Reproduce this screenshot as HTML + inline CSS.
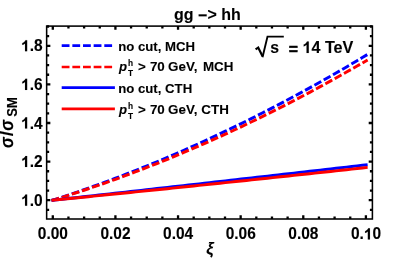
<!DOCTYPE html>
<html><head><meta charset="utf-8"><style>
html,body{margin:0;padding:0;background:#fff;}
svg{display:block;will-change:transform;font-family:"Liberation Sans",sans-serif;font-weight:bold;}
text{fill:#000;stroke:#000;stroke-width:0.1px;}
</style></head><body>
<svg width="399" height="266" viewBox="0 0 399 266">
<rect width="399" height="266" fill="#fff"/>
<defs><clipPath id="c"><rect x="46.65" y="26.10" width="325.75" height="192.90"/></clipPath></defs>
<g clip-path="url(#c)" fill="none" stroke-width="2.95">
<path d="M51.55,200.60 L56.82,198.90 L62.08,197.16 L67.35,195.41 L72.62,193.62 L77.89,191.82 L83.16,189.99 L88.42,188.13 L93.69,186.25 L98.96,184.34 L104.23,182.41 L109.49,180.46 L114.76,178.48 L120.03,176.47 L125.30,174.44 L130.57,172.39 L135.83,170.31 L141.10,168.21 L146.37,166.08 L151.64,163.93 L156.91,161.75 L162.17,159.55 L167.44,157.32 L172.71,155.07 L177.98,152.80 L183.25,150.49 L188.51,148.17 L193.78,145.82 L199.05,143.44 L204.32,141.05 L209.58,138.62 L214.85,136.17 L220.12,133.70 L225.39,131.20 L230.66,128.68 L235.92,126.13 L241.19,123.56 L246.46,120.96 L251.73,118.34 L257.00,115.69 L262.26,113.02 L267.53,110.33 L272.80,107.60 L278.07,104.86 L283.34,102.09 L288.60,99.29 L293.87,96.48 L299.14,93.63 L304.41,90.76 L309.68,87.87 L314.94,84.95 L320.21,82.01 L325.48,79.04 L330.75,76.05 L336.01,73.03 L341.28,69.99 L346.55,66.92 L351.82,63.83 L357.09,60.72 L362.35,57.58 L367.62,54.41" stroke="#0000ff" stroke-dasharray="7.8 2.85"/>
<path d="M51.55,200.58 L56.82,198.96 L62.08,197.32 L67.35,195.65 L72.62,193.95 L77.89,192.24 L83.16,190.49 L88.42,188.73 L93.69,186.93 L98.96,185.12 L104.23,183.28 L109.49,181.41 L114.76,179.52 L120.03,177.61 L125.30,175.67 L130.57,173.70 L135.83,171.71 L141.10,169.70 L146.37,167.66 L151.64,165.60 L156.91,163.52 L162.17,161.41 L167.44,159.27 L172.71,157.11 L177.98,154.93 L183.25,152.72 L188.51,150.48 L193.78,148.22 L199.05,145.94 L204.32,143.63 L209.58,141.30 L214.85,138.95 L220.12,136.57 L225.39,134.16 L230.66,131.73 L235.92,129.28 L241.19,126.80 L246.46,124.29 L251.73,121.77 L257.00,119.21 L262.26,116.64 L267.53,114.04 L272.80,111.41 L278.07,108.76 L283.34,106.08 L288.60,103.38 L293.87,100.66 L299.14,97.91 L304.41,95.14 L309.68,92.34 L314.94,89.52 L320.21,86.67 L325.48,83.80 L330.75,80.90 L336.01,77.98 L341.28,75.04 L346.55,72.07 L351.82,69.07 L357.09,66.06 L362.35,63.01 L367.62,59.95" stroke="#ff0000" stroke-dasharray="7.8 2.85"/>
<path d="M51.55,200.34 L56.82,199.75 L62.08,199.17 L67.35,198.58 L72.62,198.00 L77.89,197.41 L83.16,196.83 L88.42,196.24 L93.69,195.65 L98.96,195.07 L104.23,194.48 L109.49,193.89 L114.76,193.30 L120.03,192.71 L125.30,192.12 L130.57,191.54 L135.83,190.95 L141.10,190.36 L146.37,189.77 L151.64,189.18 L156.91,188.58 L162.17,187.99 L167.44,187.40 L172.71,186.81 L177.98,186.22 L183.25,185.63 L188.51,185.03 L193.78,184.44 L199.05,183.85 L204.32,183.25 L209.58,182.66 L214.85,182.06 L220.12,181.47 L225.39,180.87 L230.66,180.28 L235.92,179.68 L241.19,179.09 L246.46,178.49 L251.73,177.89 L257.00,177.30 L262.26,176.70 L267.53,176.10 L272.80,175.50 L278.07,174.91 L283.34,174.31 L288.60,173.71 L293.87,173.11 L299.14,172.51 L304.41,171.91 L309.68,171.31 L314.94,170.71 L320.21,170.11 L325.48,169.51 L330.75,168.90 L336.01,168.30 L341.28,167.70 L346.55,167.10 L351.82,166.49 L357.09,165.89 L362.35,165.29 L367.62,164.68" stroke="#0000ff"/>
<path d="M51.55,200.32 L56.82,199.80 L62.08,199.28 L67.35,198.76 L72.62,198.24 L77.89,197.71 L83.16,197.19 L88.42,196.66 L93.69,196.14 L98.96,195.61 L104.23,195.08 L109.49,194.55 L114.76,194.02 L120.03,193.49 L125.30,192.96 L130.57,192.42 L135.83,191.89 L141.10,191.35 L146.37,190.82 L151.64,190.28 L156.91,189.74 L162.17,189.20 L167.44,188.66 L172.71,188.12 L177.98,187.58 L183.25,187.03 L188.51,186.49 L193.78,185.94 L199.05,185.40 L204.32,184.85 L209.58,184.30 L214.85,183.75 L220.12,183.20 L225.39,182.65 L230.66,182.10 L235.92,181.54 L241.19,180.99 L246.46,180.44 L251.73,179.88 L257.00,179.32 L262.26,178.76 L267.53,178.20 L272.80,177.64 L278.07,177.08 L283.34,176.52 L288.60,175.96 L293.87,175.39 L299.14,174.83 L304.41,174.26 L309.68,173.70 L314.94,173.13 L320.21,172.56 L325.48,171.99 L330.75,171.42 L336.01,170.85 L341.28,170.27 L346.55,169.70 L351.82,169.12 L357.09,168.55 L362.35,167.97 L367.62,167.39" stroke="#ff0000"/>
</g>
<g stroke="#000" stroke-width="2.3" fill="none"><path d="M52.80,219.00 v-3.7 M52.80,26.10 v3.7"/><path d="M68.45,219.00 v-2.5 M68.45,26.10 v2.5"/><path d="M84.11,219.00 v-2.5 M84.11,26.10 v2.5"/><path d="M99.76,219.00 v-2.5 M99.76,26.10 v2.5"/><path d="M115.42,219.00 v-3.7 M115.42,26.10 v3.7"/><path d="M131.07,219.00 v-2.5 M131.07,26.10 v2.5"/><path d="M146.73,219.00 v-2.5 M146.73,26.10 v2.5"/><path d="M162.38,219.00 v-2.5 M162.38,26.10 v2.5"/><path d="M178.04,219.00 v-3.7 M178.04,26.10 v3.7"/><path d="M193.69,219.00 v-2.5 M193.69,26.10 v2.5"/><path d="M209.35,219.00 v-2.5 M209.35,26.10 v2.5"/><path d="M225.00,219.00 v-2.5 M225.00,26.10 v2.5"/><path d="M240.66,219.00 v-3.7 M240.66,26.10 v3.7"/><path d="M256.31,219.00 v-2.5 M256.31,26.10 v2.5"/><path d="M271.97,219.00 v-2.5 M271.97,26.10 v2.5"/><path d="M287.62,219.00 v-2.5 M287.62,26.10 v2.5"/><path d="M303.28,219.00 v-3.7 M303.28,26.10 v3.7"/><path d="M318.94,219.00 v-2.5 M318.94,26.10 v2.5"/><path d="M334.59,219.00 v-2.5 M334.59,26.10 v2.5"/><path d="M350.25,219.00 v-2.5 M350.25,26.10 v2.5"/><path d="M365.90,219.00 v-3.7 M365.90,26.10 v3.7"/><path d="M46.65,209.85 h2.5 M372.40,209.85 h-2.5"/><path d="M46.65,200.20 h3.7 M372.40,200.20 h-3.7"/><path d="M46.65,190.55 h2.5 M372.40,190.55 h-2.5"/><path d="M46.65,180.90 h2.5 M372.40,180.90 h-2.5"/><path d="M46.65,171.25 h2.5 M372.40,171.25 h-2.5"/><path d="M46.65,161.60 h3.7 M372.40,161.60 h-3.7"/><path d="M46.65,151.95 h2.5 M372.40,151.95 h-2.5"/><path d="M46.65,142.30 h2.5 M372.40,142.30 h-2.5"/><path d="M46.65,132.65 h2.5 M372.40,132.65 h-2.5"/><path d="M46.65,123.00 h3.7 M372.40,123.00 h-3.7"/><path d="M46.65,113.35 h2.5 M372.40,113.35 h-2.5"/><path d="M46.65,103.70 h2.5 M372.40,103.70 h-2.5"/><path d="M46.65,94.05 h2.5 M372.40,94.05 h-2.5"/><path d="M46.65,84.40 h3.7 M372.40,84.40 h-3.7"/><path d="M46.65,74.75 h2.5 M372.40,74.75 h-2.5"/><path d="M46.65,65.10 h2.5 M372.40,65.10 h-2.5"/><path d="M46.65,55.45 h2.5 M372.40,55.45 h-2.5"/><path d="M46.65,45.80 h3.7 M372.40,45.80 h-3.7"/><path d="M46.65,36.15 h2.5 M372.40,36.15 h-2.5"/><path d="M46.65,26.50 h2.5 M372.40,26.50 h-2.5"/></g>
<rect x="46.65" y="26.10" width="325.75" height="192.90" fill="none" stroke="#000" stroke-width="1.55"/>
<text transform="translate(37.82,239.40) scale(1,1.045)" font-size="15.5px" text-anchor="start" >0.00</text><text transform="translate(100.44,239.40) scale(1,1.045)" font-size="15.5px" text-anchor="start" >0.02</text><text transform="translate(163.06,239.40) scale(1,1.045)" font-size="15.5px" text-anchor="start" >0.04</text><text transform="translate(225.68,239.40) scale(1,1.045)" font-size="15.5px" text-anchor="start" >0.06</text><text transform="translate(288.30,239.40) scale(1,1.045)" font-size="15.5px" text-anchor="start" >0.08</text><text transform="translate(350.92,239.40) scale(1,1.045)" font-size="15.5px" text-anchor="start" >0.</text><path d="M525 0V1000Q371 870 162 800V1040Q272 1075 401 1175Q530 1275 578 1409H806V0Z" transform="translate(363.85,239.40) scale(0.00757,-0.00791)" fill="#000" stroke="#000" stroke-width="13.2"/><text transform="translate(372.46,239.40) scale(1,1.045)" font-size="15.5px" text-anchor="start" >0</text><path d="M525 0V1000Q371 870 162 800V1040Q272 1075 401 1175Q530 1275 578 1409H806V0Z" transform="translate(21.05,205.70) scale(0.00757,-0.00791)" fill="#000" stroke="#000" stroke-width="13.2"/><text transform="translate(29.67,205.70) scale(1,1.045)" font-size="15.5px" text-anchor="start" >.0</text><path d="M525 0V1000Q371 870 162 800V1040Q272 1075 401 1175Q530 1275 578 1409H806V0Z" transform="translate(21.05,167.10) scale(0.00757,-0.00791)" fill="#000" stroke="#000" stroke-width="13.2"/><text transform="translate(29.67,167.10) scale(1,1.045)" font-size="15.5px" text-anchor="start" >.2</text><path d="M525 0V1000Q371 870 162 800V1040Q272 1075 401 1175Q530 1275 578 1409H806V0Z" transform="translate(21.05,128.50) scale(0.00757,-0.00791)" fill="#000" stroke="#000" stroke-width="13.2"/><text transform="translate(29.67,128.50) scale(1,1.045)" font-size="15.5px" text-anchor="start" >.4</text><path d="M525 0V1000Q371 870 162 800V1040Q272 1075 401 1175Q530 1275 578 1409H806V0Z" transform="translate(21.05,89.90) scale(0.00757,-0.00791)" fill="#000" stroke="#000" stroke-width="13.2"/><text transform="translate(29.67,89.90) scale(1,1.045)" font-size="15.5px" text-anchor="start" >.6</text><path d="M525 0V1000Q371 870 162 800V1040Q272 1075 401 1175Q530 1275 578 1409H806V0Z" transform="translate(21.05,51.30) scale(0.00757,-0.00791)" fill="#000" stroke="#000" stroke-width="13.2"/><text transform="translate(29.67,51.30) scale(1,1.045)" font-size="15.5px" text-anchor="start" >.8</text>
<text transform="translate(207.40,20.00) scale(1,1.045)" font-size="16px" text-anchor="middle" >gg <tspan dy="1">−</tspan><tspan dy="-1">&gt; hh</tspan></text>
<g fill="none" stroke-width="2.7">
<path d="M61.7,45.6H114.9" stroke="#0000ff" stroke-dasharray="7.8 2.85"/>
<path d="M61.7,67H114.9" stroke="#ff0000" stroke-dasharray="7.8 2.85"/>
<path d="M61.7,87.7H114.9" stroke="#0000ff"/>
<path d="M61.7,108.9H114.9" stroke="#ff0000"/>
</g>
<text transform="translate(118.20,50.60) scale(1,1.000)" font-size="13.2px" text-anchor="start" >no cut, MCH</text><text transform="translate(119.10,71.30) scale(1,1.000)" font-size="13.2px" text-anchor="start" font-style="italic">p</text><text transform="translate(128.10,66.10) scale(1,1.000)" font-size="8.3px" text-anchor="start" >h</text><text transform="translate(128.10,76.10) scale(1,1.000)" font-size="8.3px" text-anchor="start" >T</text><text transform="translate(138.00,71.30) scale(1,1.000)" font-size="13.4px" text-anchor="start" >&gt;</text><text transform="translate(149.90,71.30) scale(1,1.000)" font-size="13.4px" text-anchor="start" >70</text><text transform="translate(168.10,71.30) scale(1,1.000)" font-size="13.4px" text-anchor="start" >GeV,</text><text transform="translate(202.90,71.30) scale(1,1.000)" font-size="13.4px" text-anchor="start" >MCH</text><text transform="translate(118.20,92.70) scale(1,1.000)" font-size="13.2px" text-anchor="start" >no cut, CTH</text><text transform="translate(119.10,113.90) scale(1,1.000)" font-size="13.2px" text-anchor="start" font-style="italic">p</text><text transform="translate(128.10,108.70) scale(1,1.000)" font-size="8.3px" text-anchor="start" >h</text><text transform="translate(128.10,118.70) scale(1,1.000)" font-size="8.3px" text-anchor="start" >T</text><text transform="translate(138.00,113.90) scale(1,1.000)" font-size="13.4px" text-anchor="start" >&gt;</text><text transform="translate(149.90,113.90) scale(1,1.000)" font-size="13.4px" text-anchor="start" >70</text><text transform="translate(168.10,113.90) scale(1,1.000)" font-size="13.4px" text-anchor="start" >GeV,</text><text transform="translate(201.30,113.90) scale(1,1.000)" font-size="13.4px" text-anchor="start" >CTH</text>
<text transform="translate(270.20,53.10) scale(1,1.045)" font-size="15.8px" text-anchor="start" >s</text><text transform="translate(288.80,54.70) scale(1,1.045)" font-size="15.8px" text-anchor="start" style="stroke-width:0.45px">=</text><path d="M525 0V1000Q371 870 162 800V1040Q272 1075 401 1175Q530 1275 578 1409H806V0Z" transform="translate(302.40,53.10) scale(0.00791,-0.00827)" fill="#000" stroke="#000" stroke-width="12.6"/><text transform="translate(311.41,53.10) scale(1,1.045)" font-size="16.2px" text-anchor="start" >4 TeV</text>
<path d="M255.6,49.3 l2.6,-1.7 l4.3,8.6" fill="none" stroke="#000" stroke-width="2.2" stroke-linejoin="miter"/>
<path d="M262.5,57.2 L267.5,36.6 H283.8" fill="none" stroke="#000" stroke-width="1.9"/>
<text transform="translate(210.00,253.50) scale(1,1.045)" font-size="16.3px" text-anchor="middle" font-style="italic">ξ</text>
<g transform="translate(13.3,147.8) rotate(-90)"><text font-size="19px" font-style="italic" transform="translate(0,0) skewX(4) scale(0.88,1)">σ</text><text font-size="19px" transform="translate(11.6,-0.4)">/</text><text font-size="19px" font-style="italic" transform="translate(17.3,0) skewX(4) scale(0.88,1)">σ</text><text transform="translate(31.1,3.5) scale(0.86,1)" font-size="15.2px">SM</text></g>
</svg>
</body></html>
